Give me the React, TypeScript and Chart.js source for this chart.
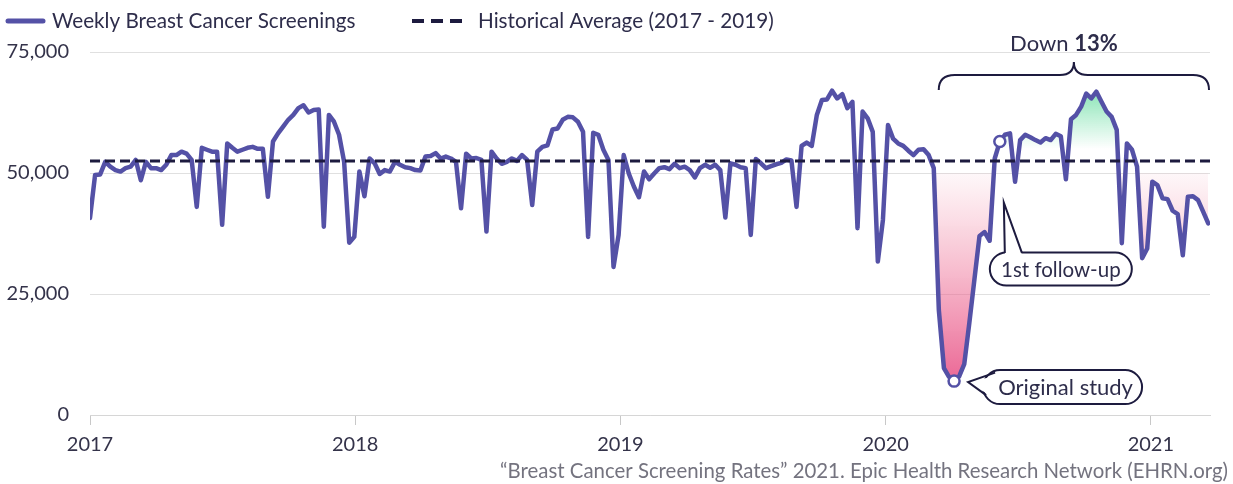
import React, { useEffect, useRef } from 'react';
import { Chart, registerables } from 'chart.js';

Chart.register(...registerables);

// ---- data ----
const startYear = 2017;
const weeksPerYear = 365.25 / 7;
const screenings = [
  40700, 49600, 49700, 52300, 51300, 50600, 50300, 51000, 51300, 52700,
  48500, 52300, 51000, 51000, 50600, 51700, 53700, 53700, 54400, 54000,
  52700, 43000, 55200, 54800, 54400, 54400, 39300, 56100, 55200, 54400,
  54800, 55200, 55400, 55000, 55000, 45100, 56500, 58200, 59600, 61000,
  62000, 63400, 64000, 62500, 63000, 63100, 38900, 62000, 60600, 57900,
  52300, 35600, 36800, 50300, 45200, 53000, 52000, 49800, 50600, 50300,
  52300, 51700, 51200, 51000, 50600, 50500, 53400, 53500, 54100, 53000,
  53400, 53000, 52300, 42700, 54000, 53000, 53100, 52700, 37900, 54400,
  53000, 51900, 52300, 53000, 52500, 53700, 52700, 43400, 54400, 55400,
  55700, 59000, 59200, 61000, 61600, 61500, 60600, 58500, 36800, 58300,
  57900, 54800, 52700, 30600, 37200, 53700, 49900, 47200, 45000, 50300,
  48700, 49900, 51000, 51200, 50800, 51900, 51000, 51300, 50600, 49100,
  51000, 51700, 51100, 51700, 50600, 40800, 52000, 51700, 51200, 51000,
  37200, 52900, 52000, 51000, 51400, 51800, 52100, 52800, 52600, 43000,
  55600, 56300, 55600, 62000, 65100, 65200, 67000, 65400, 66300, 63400,
  64700, 38600, 62700, 61300, 58500, 31700, 40300, 59900, 57100, 56100,
  55600, 54600, 53700, 54800, 54900, 53700, 51000, 21700, 9700, 7900,
  7000, 8000, 10500, 19000, 28000, 37000, 37800, 36000, 53000, 56500,
  57900, 58200, 48200, 56800, 57900, 57400, 56800, 56300, 57200, 56800,
  58100, 57600, 48700, 61100, 62000, 63700, 66400, 65400, 66800, 64700,
  62700, 61600, 58900, 35500, 56100, 54800, 51300, 32400, 34400, 48200,
  47500, 44800, 44600, 42200, 41500, 33000, 45100, 45200, 44400, 42000,
  39600,
];
const historicalAverage = 52500;
const yTicks = [0, 25000, 50000, 75000];
const yearTicks = [2017, 2018, 2019, 2020, 2021];
const fillFromWeek = 166;
const fillBaseline = 50000;
const originalStudyWeek = 170;
const followUpWeek = 179;
const legendLabels = ['Weekly Breast Cancer Screenings', 'Historical Average (2017 - 2019)'];
const braceLabel = ['Down ', '13%'];
const followUpLabel = '1st follow-up';
const originalLabel = 'Original study';
const sourceNote = '\u201CBreast Cancer Screening Rates\u201D 2021. Epic Health Research Network (EHRN.org)';

// ---- styles ----
const LINE = '#5451a6';
const NAVY = '#1d1b3f';
const TEXT = '#2e2d4b';
const FONT = 'Lato, "Noto Sans", sans-serif';

const weekX = (i: number) => startYear + i / weeksPerYear;
const xMax = weekX(screenings.length - 1 + 0.35);

function pill(c: CanvasRenderingContext2D, x: number, y: number, w: number, h: number) {
  const r = h / 2;
  c.beginPath();
  c.moveTo(x + r, y);
  c.lineTo(x + w - r, y);
  c.arc(x + w - r, y + r, r, -Math.PI / 2, Math.PI / 2);
  c.lineTo(x + r, y + h);
  c.arc(x + r, y + r, r, Math.PI / 2, (3 * Math.PI) / 2);
  c.closePath();
}

const overlayPlugin = {
  id: 'overlay',
  afterDraw(chart: any) {
    const c: CanvasRenderingContext2D = chart.ctx;
    const xs = chart.scales.x;
    const ys = chart.scales.y;
    const area = chart.chartArea;
    c.save();

    // legend
    c.lineCap = 'round';
    c.strokeStyle = LINE;
    c.lineWidth = 5;
    c.beginPath();
    c.moveTo(8, 21);
    c.lineTo(43, 21);
    c.stroke();
    c.font = `20.7px ${FONT}`;
    c.fillStyle = TEXT;
    c.textBaseline = 'middle';
    c.textAlign = 'left';
    c.fillText(legendLabels[0], 52, 21);
    c.lineCap = 'butt';
    c.strokeStyle = NAVY;
    c.lineWidth = 4;
    c.setLineDash([12, 7]);
    c.beginPath();
    c.moveTo(412, 21);
    c.lineTo(462, 21);
    c.stroke();
    c.setLineDash([]);
    c.fillText(legendLabels[1], 478, 21);

    // source note
    c.font = `20.4px ${FONT}`;
    c.fillStyle = '#74737f';
    c.textAlign = 'right';
    c.fillText(sourceNote, 1228, 471);

    // brace + label
    const L = xs.getPixelForValue(weekX(fillFromWeek)) + 5;
    const R = area.right - 1;
    const C = (L + R) / 2;
    const top = 62, mid = 75, bot = 90;
    c.strokeStyle = NAVY;
    c.lineWidth = 2;
    c.beginPath();
    c.moveTo(L, bot);
    c.quadraticCurveTo(L, mid, L + 16, mid);
    c.lineTo(C - 14, mid);
    c.quadraticCurveTo(C, mid, C, top);
    c.quadraticCurveTo(C, mid, C + 14, mid);
    c.lineTo(R - 16, mid);
    c.quadraticCurveTo(R, mid, R, bot);
    c.stroke();
    c.textAlign = 'left';
    c.textBaseline = 'alphabetic';
    c.font = `22px ${FONT}`;
    const w1 = c.measureText(braceLabel[0]).width;
    c.font = `bold 22px ${FONT}`;
    const w2 = c.measureText(braceLabel[1]).width;
    const tx = C - 10 - (w1 + w2) / 2;
    c.fillStyle = TEXT;
    c.font = `22px ${FONT}`;
    c.fillText(braceLabel[0], tx, 51);
    c.font = `bold 22px ${FONT}`;
    c.fillText(braceLabel[1], tx + w1, 51);

    // callouts
    c.textBaseline = 'middle';
    c.lineWidth = 2;
    c.strokeStyle = NAVY;

    // 1st follow-up
    const fx = xs.getPixelForValue(weekX(followUpWeek));
    const fy = ys.getPixelForValue(screenings[followUpWeek]);
    {
      const bx = fx - 10, by = fy + 111, bw = 142, bh = 33;
      pill(c, bx, by, bw, bh);
      c.fillStyle = '#fff';
      c.fill();
      c.stroke();
      const tip = { x: fx + 4, y: fy + 61 };
      const a = { x: fx + 5, y: by + 0.5 };
      const b = { x: fx + 22, y: by };
      c.beginPath();
      c.moveTo(tip.x, tip.y);
      c.lineTo(a.x, a.y + 2);
      c.lineTo(b.x, b.y + 2);
      c.closePath();
      c.fill();
      c.beginPath();
      c.moveTo(a.x, a.y);
      c.lineTo(tip.x, tip.y);
      c.lineTo(b.x, b.y);
      c.stroke();
      c.fillStyle = TEXT;
      c.textAlign = 'center';
      c.font = `20.5px ${FONT}`;
      c.fillText(followUpLabel, bx + bw / 2, by + bh / 2 + 1);
    }

    // Original study
    const ox = xs.getPixelForValue(weekX(originalStudyWeek));
    const oy = ys.getPixelForValue(screenings[originalStudyWeek]);
    {
      const bx = ox + 29, by = oy - 11, bw = 159, bh = 34;
      pill(c, bx, by, bw, bh);
      c.fillStyle = '#fff';
      c.fill();
      c.stroke();
      const tip = { x: ox + 14, y: oy + 1 };
      const a = { x: bx + 12, y: by + 2.5 };
      const b = { x: bx + 3, y: by + 25 };
      c.beginPath();
      c.moveTo(tip.x, tip.y);
      c.lineTo(a.x + 3, a.y + 3);
      c.lineTo(b.x + 3, b.y);
      c.closePath();
      c.fill();
      c.beginPath();
      c.moveTo(a.x, a.y);
      c.lineTo(tip.x, tip.y);
      c.lineTo(b.x, b.y);
      c.stroke();
      c.fillStyle = TEXT;
      c.textAlign = 'center';
      c.font = `22px ${FONT}`;
      c.fillText(originalLabel, bx + bw / 2 + 3, by + bh / 2 + 1);
    }
    c.restore();
  },
};

export default function App() {
  const ref = useRef<HTMLCanvasElement | null>(null);

  useEffect(() => {
    document.body.style.margin = '0';
    const canvas = ref.current;
    if (!canvas) return;
    const points = screenings.map((v, i) => ({ x: weekX(i), y: v }));
    const fillPoints = points.slice(fillFromWeek);

    const greenFill = (ctx: any) => {
      const chart = ctx.chart;
      if (!chart.chartArea) return 'rgba(0,0,0,0)';
      const y = chart.scales.y;
      const g = chart.ctx.createLinearGradient(0, y.getPixelForValue(67000), 0, y.getPixelForValue(55000));
      g.addColorStop(0, 'rgba(110,222,165,0.8)');
      g.addColorStop(1, 'rgba(110,222,165,0)');
      return g;
    };
    const redFill = (ctx: any) => {
      const chart = ctx.chart;
      if (!chart.chartArea) return 'rgba(0,0,0,0)';
      const y = chart.scales.y;
      const g = chart.ctx.createLinearGradient(0, y.getPixelForValue(50000), 0, y.getPixelForValue(6000));
      g.addColorStop(0, 'rgba(240,120,150,0.05)');
      g.addColorStop(1, 'rgba(232,82,135,0.9)');
      return g;
    };

    const tickFont = { family: FONT, size: 20 };

    const chart = new Chart(canvas, {
      type: 'line',
      data: {
        datasets: [
          {
            label: legendLabels[1],
            data: [
              { x: startYear, y: historicalAverage },
              { x: xMax, y: historicalAverage },
            ],
            borderColor: NAVY,
            borderWidth: 3,
            borderDash: [10, 5],
            pointRadius: 0,
            fill: false,
            order: 0,
          },
          {
            label: legendLabels[0],
            data: points,
            borderColor: LINE,
            borderWidth: 4.5,
            borderJoinStyle: 'round',
            borderCapStyle: 'round',
            tension: 0,
            pointRadius: (ctx: any) =>
              ctx.dataIndex === originalStudyWeek || ctx.dataIndex === followUpWeek ? 5.5 : 0,
            pointBackgroundColor: '#ffffff',
            pointBorderColor: LINE,
            pointBorderWidth: 2.5,
            fill: false,
            order: 1,
          },
          {
            label: 'above',
            data: fillPoints,
            borderWidth: 0,
            borderColor: 'rgba(0,0,0,0)',
            backgroundColor: greenFill,
            pointRadius: 0,
            fill: { target: { value: fillBaseline }, below: 'rgba(0,0,0,0)' },
            order: 2,
          },
          {
            label: 'below',
            data: fillPoints,
            borderWidth: 0,
            borderColor: 'rgba(0,0,0,0)',
            backgroundColor: redFill,
            pointRadius: 0,
            fill: { target: { value: fillBaseline }, above: 'rgba(0,0,0,0)' },
            order: 3,
          },
        ],
      } as any,
      options: {
        animation: false,
        responsive: false,
        events: [],
        layout: { padding: { top: 52, right: 23, bottom: 0, left: 0 } },
        plugins: { legend: { display: false }, tooltip: { enabled: false } },
        scales: {
          x: {
            type: 'linear',
            min: startYear,
            max: xMax,
            afterBuildTicks: (s: any) => {
              s.ticks = yearTicks.map((v) => ({ value: v }));
            },
            afterFit: (s: any) => {
              s.height = 69;
            },
            ticks: {
              callback: (v: any) => String(v),
              font: tickFont,
              color: '#34334a',
              padding: 8,
              maxRotation: 0,
              autoSkip: false,
            },
            grid: { drawOnChartArea: false, drawTicks: true, tickLength: 10, color: '#c8c8c8' },
            border: { display: true, color: '#d6d6d6' },
          },
          y: {
            min: 0,
            max: 75000,
            afterBuildTicks: (s: any) => {
              s.ticks = yTicks.map((v) => ({ value: v }));
            },
            afterFit: (s: any) => {
              s.width = 90;
            },
            ticks: {
              callback: (v: any) => Number(v).toLocaleString('en-US'),
              font: tickFont,
              color: '#34334a',
              padding: 21,
            },
            grid: { color: '#e0e0e0', drawTicks: false },
            border: { display: false },
          },
        },
      } as any,
      plugins: [overlayPlugin],
    });
    return () => chart.destroy();
  }, []);

  return (
    <div style={{ width: 1233, height: 484 }}>
      <canvas ref={ref} width={1233} height={484} />
    </div>
  );
}
